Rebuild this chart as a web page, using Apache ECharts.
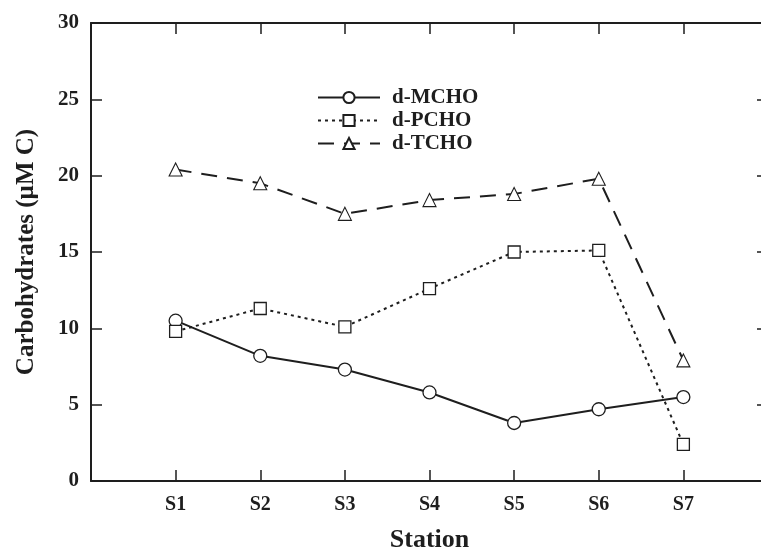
<!DOCTYPE html>
<html>
<head>
<meta charset="utf-8">
<script src="https://cdn.jsdelivr.net/npm/echarts@6/dist/echarts.min.js"></script>
<style>html,body{margin:0;padding:0;background:#fff}#c{width:761px;height:550px}</style>
</head>
<body>
<div id="c"></div>
<script>
const stations = ['S1','S2','S3','S4','S5','S6','S7'];
const dMCHO = [10.5, 8.2, 7.3, 5.8, 3.8, 4.7, 5.5];
const dPCHO = [9.8, 11.3, 10.1, 12.6, 15.0, 15.1, 2.4];
const dTCHO = [20.4, 19.5, 17.5, 18.4, 18.8, 19.8, 7.9];
const yTicks = [0, 5, 10, 15, 20, 25, 30];

const FONT = '"Liberation Serif", "Times New Roman", serif';
const INK = '#1e1e1e';
const pts = arr => arr.map((v, i) => [i + 1, v]);

const chart = echarts.init(document.getElementById('c'), null, {renderer: 'canvas'});
const axisLine = {show: true, onZero: false, lineStyle: {color: INK, width: 2}};
const tick = {show: true, inside: true, length: 11, lineStyle: {color: INK, width: 1.5}};
chart.setOption({
  animation: false,
  backgroundColor: '#ffffff',
  grid: {left: 91, top: 23, right: -7, bottom: 69, containLabel: false, outerBoundsMode: 'none'},
  legend: {
    orient: 'vertical', left: 312, top: 82, itemWidth: 62, itemHeight: 14, itemGap: 2,
    textStyle: {fontFamily: FONT, fontWeight: 'bold', fontSize: 21, color: INK, padding: [0,0,0,7]},
    data: ['d-MCHO', 'd-PCHO', 'd-TCHO']
  },
  xAxis: [{
    type: 'value', min: 0, max: 8, interval: 1, position: 'bottom',
    name: 'Station', nameLocation: 'middle', nameGap: 46,
    nameTextStyle: {fontFamily: FONT, fontWeight: 'bold', fontSize: 26, color: INK},
    axisLine: axisLine, axisTick: tick, splitLine: {show: false},
    axisLabel: {margin: 14, fontFamily: FONT, fontWeight: 'bold', fontSize: 20, color: INK,
      formatter: v => (v >= 1 && v <= stations.length) ? stations[v - 1] : ''}
  }, {
    type: 'value', min: 0, max: 8, interval: 1, position: 'top',
    axisLine: axisLine, axisTick: tick, axisLabel: {show: false}, splitLine: {show: false}
  }],
  yAxis: [{
    type: 'value', min: yTicks[0], max: yTicks[yTicks.length - 1], interval: 5, position: 'left',
    name: 'Carbohydrates (\u00b5M C)', nameLocation: 'middle', nameGap: 52,
    nameTextStyle: {fontFamily: FONT, fontWeight: 'bold', fontSize: 25, color: INK},
    axisLine: axisLine, axisTick: tick, splitLine: {show: false},
    axisLabel: {margin: 12, fontFamily: FONT, fontWeight: 'bold', fontSize: 21, color: INK}
  }, {
    type: 'value', min: yTicks[0], max: yTicks[yTicks.length - 1], interval: 5, position: 'right',
    axisLine: axisLine, axisTick: tick, axisLabel: {show: false}, splitLine: {show: false}
  }],
  series: [{
    name: 'd-MCHO', type: 'line', data: pts(dMCHO),
    symbol: 'circle', symbolSize: 13,
    lineStyle: {color: INK, width: 2, type: 'solid'},
    itemStyle: {color: '#fff', borderColor: INK, borderWidth: 1.3}
  }, {
    name: 'd-PCHO', type: 'line', data: pts(dPCHO),
    symbol: 'rect', symbolSize: 12,
    lineStyle: {color: INK, width: 2, type: [3, 4]},
    itemStyle: {color: '#fff', borderColor: INK, borderWidth: 1.3}
  }, {
    name: 'd-TCHO', type: 'line', data: pts(dTCHO),
    symbol: 'triangle', symbolSize: 13,
    lineStyle: {color: INK, width: 2, type: [16, 10]},
    itemStyle: {color: '#fff', borderColor: INK, borderWidth: 1.1}
  }]
});
</script>
</body>
</html>
